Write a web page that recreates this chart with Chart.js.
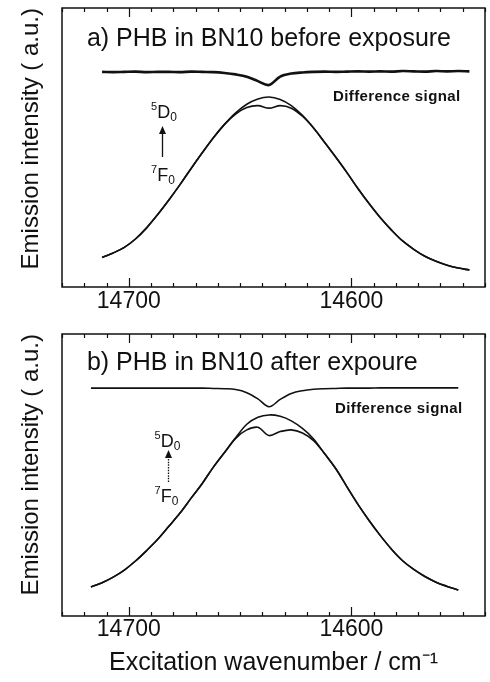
<!DOCTYPE html>
<html><head><meta charset="utf-8">
<script src="https://cdn.jsdelivr.net/npm/chart.js"></script>
<style>
html,body{margin:0;padding:0;background:#fff;}
#wrap{position:relative;width:490px;height:682px;overflow:hidden;}
#ca{position:absolute;left:0;top:0;}
#cb{position:absolute;left:0;top:320px;}
</style></head><body>
<div id="wrap"><canvas id="ca" width="490" height="320"></canvas><canvas id="cb" width="490" height="362"></canvas></div>
<script>
// ---------- data ----------
const waveA = [14712,14707,14702,14697,14692,14687,14682,14677,14672,14667,14662,14657,14652,14647,14642,14637,14632,14627,14622,14617,14612,14607,14602,14597,14592,14587,14582,14577,14572,14567,14562,14557,14552,14547];
const mainA = [0.106,0.122,0.142,0.172,0.212,0.260,0.312,0.367,0.425,0.481,0.535,0.583,0.624,0.655,0.674,0.681,0.672,0.650,0.615,0.570,0.518,0.465,0.410,0.352,0.298,0.248,0.204,0.165,0.135,0.110,0.092,0.078,0.068,0.061];
const holeA = [0.106,0.122,0.142,0.172,0.212,0.260,0.312,0.367,0.425,0.481,0.535,0.583,0.620,0.643,0.650,0.641,0.650,0.641,0.612,0.570,0.518,0.465,0.410,0.352,0.298,0.248,0.204,0.165,0.135,0.110,0.092,0.078,0.068,0.061];
const diffA = [0.771,0.770,0.771,0.772,0.770,0.771,0.771,0.770,0.772,0.771,0.770,0.767,0.762,0.754,0.738,0.724,0.754,0.765,0.769,0.771,0.772,0.771,0.772,0.773,0.772,0.773,0.772,0.774,0.773,0.772,0.774,0.773,0.774,0.773];

const waveB = [14717,14712,14707,14702,14697,14692,14687,14682,14677,14672,14667,14662,14657,14652,14647,14642,14637,14632,14627,14622,14617,14612,14607,14602,14597,14592,14587,14582,14577,14572,14567,14562,14557,14552];
const mainB = [0.103,0.118,0.138,0.163,0.195,0.232,0.272,0.318,0.365,0.418,0.470,0.528,0.580,0.632,0.680,0.705,0.713,0.708,0.692,0.665,0.628,0.575,0.522,0.458,0.395,0.338,0.285,0.237,0.196,0.165,0.140,0.120,0.105,0.092];
const holeB = [0.103,0.118,0.138,0.163,0.195,0.232,0.272,0.318,0.365,0.418,0.470,0.528,0.580,0.630,0.660,0.669,0.640,0.654,0.660,0.649,0.622,0.575,0.522,0.458,0.395,0.338,0.285,0.237,0.196,0.165,0.140,0.120,0.105,0.092];
const diffB = [0.808,0.808,0.808,0.808,0.808,0.808,0.808,0.808,0.808,0.808,0.808,0.807,0.806,0.803,0.792,0.770,0.742,0.768,0.789,0.799,0.804,0.806,0.807,0.808,0.808,0.808,0.809,0.809,0.809,0.809,0.809,0.809,0.809,0.809];

const tickValues = [14540,14550,14560,14570,14580,14590,14600,14610,14620,14630,14640,14650,14660,14670,14680,14690,14700,14710,14720,14730];
const majorTicks = [14700,14600];
const tickLabels = ['14700','14600'];
const yTitle = 'Emission intensity ( a.u.)';
const xTitle = 'Excitation wavenumber / cm\u207B\u00B9';
const diffLabel = 'Difference signal';

// ---------- drawing ----------
const FAM = '"Liberation Sans", Arial, Helvetica, sans-serif';
const INK = '#111';
const toXY = (xs, ys) => xs.map((v, i) => ({x: v, y: ys[i]}));

const framePlugin = {
  id: 'frame',
  afterDraw(chart, args, o) {
    const {ctx, chartArea: a, scales: {x, y}} = chart;
    ctx.save();
    ctx.strokeStyle = INK; ctx.fillStyle = INK; ctx.lineWidth = 1.5;
    ctx.strokeRect(a.left, a.top, a.right - a.left, a.bottom - a.top);
    ctx.lineWidth = 1.2;
    x.ticks.forEach(t => {
      const px = Math.round(x.getPixelForValue(t.value)) + 0.5;
      const len = majorTicks.includes(t.value) ? 9 : 4;
      ctx.beginPath();
      ctx.moveTo(px, a.bottom); ctx.lineTo(px, a.bottom - len);
      ctx.moveTo(px, a.top); ctx.lineTo(px, a.top + len);
      ctx.stroke();
    });
    ctx.textBaseline = 'alphabetic'; ctx.textAlign = 'left';
    // panel title
    ctx.font = '25px ' + FAM;
    ctx.fillText(o.title, x.getPixelForValue(o.titlePos[0]), y.getPixelForValue(o.titlePos[1]));
    // difference label
    ctx.font = 'bold 15px ' + FAM;
    try { ctx.letterSpacing = '0.4px'; } catch (e) {}
    ctx.fillText(diffLabel, x.getPixelForValue(o.diffPos[0]), y.getPixelForValue(o.diffPos[1]));
    try { ctx.letterSpacing = '0px'; } catch (e) {}
    // level labels
    const level = (sup, main, sub, pos) => {
      let px = x.getPixelForValue(pos[0]); const py = y.getPixelForValue(pos[1]);
      ctx.font = '11px ' + FAM; ctx.fillText(sup, px, py - 8); px += ctx.measureText(sup).width;
      ctx.font = '18px ' + FAM; ctx.fillText(main, px, py); px += ctx.measureText(main).width;
      ctx.font = '12px ' + FAM; ctx.fillText(sub, px, py + 3);
    };
    level('5', 'D', '0', o.upperPos);
    level('7', 'F', '0', o.lowerPos);
    // arrow
    const ax = Math.round(x.getPixelForValue(o.arrow[0])) + 0.5;
    const y0 = y.getPixelForValue(o.arrow[1]), y1 = y.getPixelForValue(o.arrow[2]);
    ctx.lineWidth = 1.3;
    if (o.dashed) ctx.setLineDash([1.5, 1.2]);
    ctx.beginPath(); ctx.moveTo(ax, y0); ctx.lineTo(ax, y1 + 6); ctx.stroke();
    ctx.setLineDash([]);
    ctx.beginPath(); ctx.moveTo(ax, y1); ctx.lineTo(ax - 3.5, y1 + 8); ctx.lineTo(ax + 3.5, y1 + 8); ctx.closePath(); ctx.fill();
    ctx.restore();
  }
};

function makeChart(id, wave, main, hole, diff, diffWidth, ann, padTop, xHeight, withTitle, tickPad) {
  const ds = (arr, w) => ({data: toXY(wave, arr), borderColor: INK, borderWidth: w, pointRadius: 0, tension: 0.35, fill: false});
  return new Chart(document.getElementById(id), {
    type: 'line',
    data: {datasets: [ds(main, 1.6), ds(hole, 1.6), ds(diff, diffWidth)]},
    options: {
      responsive: false, animation: false, events: [],
      layout: {padding: {top: padTop, right: 5, left: 0, bottom: 0}},
      plugins: {legend: {display: false}, tooltip: {enabled: false}, frame: ann},
      scales: {
        x: {
          type: 'linear', reverse: true, min: 14540, max: 14730,
          afterBuildTicks: s => { s.ticks = tickValues.map(v => ({value: v})); },
          ticks: {autoSkip: false, maxRotation: 0, minRotation: 0, padding: tickPad, color: INK,
                  font: {size: 23, family: FAM},
                  callback: v => { const i = majorTicks.indexOf(v); return i >= 0 ? tickLabels[i] : ''; }},
          grid: {display: false, drawTicks: false}, border: {display: false},
          title: withTitle ? {display: true, text: xTitle, color: INK, font: {size: 25, family: FAM}, padding: {top: 0, bottom: 4}} : {display: false},
          afterFit: s => { s.height = xHeight; }
        },
        y: {
          min: 0, max: 1,
          ticks: {display: false}, grid: {display: false, drawTicks: false}, border: {display: false},
          title: {display: true, text: yTitle, align: 'end', color: INK, font: {size: 24, family: FAM}, padding: {top: 17, bottom: 0}},
          afterFit: s => { s.width = 62; }
        }
      }
    },
    plugins: [framePlugin]
  });
}

const annA = {title: 'a) PHB in BN10 before exposure', titlePos: [14718.8, 0.864], diffPos: [14608.3, 0.667],
              upperPos: [14690.0, 0.606], lowerPos: [14690.0, 0.380], arrow: [14685.1, 0.466, 0.577], dashed: false};
const annB = {title: 'b) PHB in BN10 after expoure', titlePos: [14718.8, 0.872], diffPos: [14607.4, 0.720],
              upperPos: [14688.4, 0.599], lowerPos: [14688.4, 0.404], arrow: [14682.6, 0.475, 0.589], dashed: true};

makeChart('ca', waveA, mainA, holeA, diffA, 2.6, annA, 8, 33, false, 1);
makeChart('cb', waveB, mainB, holeB, diffB, 1.6, annB, 14, 66, true, 0);
</script>
</body></html>
